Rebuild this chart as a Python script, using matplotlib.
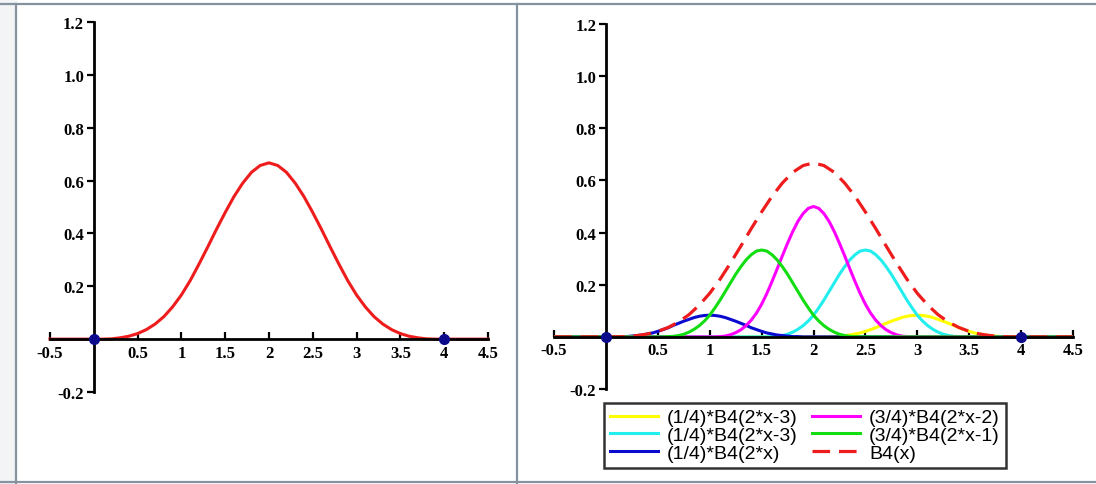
import numpy as np
import matplotlib
matplotlib.use("Agg")
import matplotlib.pyplot as plt
from matplotlib.lines import Line2D
from matplotlib.patches import Rectangle

# B4(x): cubic B-spline values, x from -0.5 to 4.5 step 0.1
x_b4 = np.linspace(-0.5, 4.5, 51)
b4 = [0, 0, 0, 0, 0,
      0, 0, .001, .005, .011, .021, .036, .057, .085, .122, .167,
      .221, .283, .348, .415, .479, .539, .590, .631, .657, .667,
      .657, .631, .590, .539, .479, .415, .348, .283, .221, .167,
      .122, .085, .057, .036, .021, .011, .005, .001, 0, 0,
      0, 0, 0, 0, 0]

# right panel pieces, each over its own support (step 0.05) plus the ends of the axis
blue_x = [-0.5] + list(np.linspace(0.0, 2.0, 41)) + [4.5]
blue_y = [0, 0, 0, 0, .001, .001, .003, .005, .007, .011, .015, .021, .028, .035, .044, .052,
          .060, .067, .074, .079, .082, .083, .082, .079, .074, .067, .060, .052, .044,
          .035, .028, .021, .015, .011, .007, .005, .003, .001, .001, 0, 0, 0, 0]
green_x = [-0.5] + list(np.linspace(0.5, 2.5, 41)) + [4.5]
green_y = [0, 0, 0, .001, .002, .005, .010, .018, .029, .043, .061, .083, .111, .141, .174, .207,
           .240, .269, .295, .315, .329, .333, .329, .315, .295, .269, .240, .207, .174,
           .141, .111, .083, .061, .043, .029, .018, .010, .005, .002, .001, 0, 0, 0]
magenta_x = [-0.5] + list(np.linspace(1.0, 3.0, 41)) + [4.5]
magenta_y = [0, 0, 0, .001, .003, .008, .016, .027, .043, .064, .091, .125, .166, .212, .261, .311,
             .359, .404, .443, .473, .493, .500, .493, .473, .443, .404, .359, .311, .261,
             .212, .166, .125, .091, .064, .043, .027, .016, .008, .003, .001, 0, 0, 0]
cyan_x = [-0.5] + list(np.linspace(1.5, 3.5, 41)) + [4.5]
cyan_y = [0, 0, 0, .001, .002, .005, .010, .018, .029, .043, .061, .083, .111, .141, .174, .207,
          .240, .269, .295, .315, .329, .333, .329, .315, .295, .269, .240, .207, .174,
          .141, .111, .083, .061, .043, .029, .018, .010, .005, .002, .001, 0, 0, 0]
yellow_x = [-0.5] + list(np.linspace(2.0, 4.0, 41)) + [4.5]
yellow_y = [0, 0, 0, 0, .001, .001, .003, .005, .007, .011, .015, .021, .028, .035, .044, .052,
            .060, .067, .074, .079, .082, .083, .082, .079, .074, .067, .060, .052, .044,
            .035, .028, .021, .015, .011, .007, .005, .003, .001, .001, 0, 0, 0, 0]

legend_labels = ["(1/4)*B4(2*x-3)", "(1/4)*B4(2*x-3)", "(1/4)*B4(2*x)",
                 "(3/4)*B4(2*x-2)", "(3/4)*B4(2*x-1)", "B4(x)"]

x_ticks = [-0.5, 0.5, 1, 1.5, 2, 2.5, 3, 3.5, 4, 4.5]
x_ticklabels = ["-0.5", "0.5", "1", "1.5", "2", "2.5", "3", "3.5", "4", "4.5"]
y_ticks = [-0.2, 0.2, 0.4, 0.6, 0.8, 1.0, 1.2]
y_ticklabels = ["-0.2", "0.2", "0.4", "0.6", "0.8", "1.0", "1.2"]
dots_x = [0, 4]
dots_y = [0, 0]

fig = plt.figure(figsize=(10.96, 4.85), dpi=100)

# window frame lines
fig.add_artist(Rectangle((0, 0), 0.0146, 1, transform=fig.transFigure, color="#f2f4f5", zorder=0))
frame = "#8592a0"
fig.add_artist(Line2D([0, 1], [0.9897, 0.9897], transform=fig.transFigure, color=frame, lw=1.6))
fig.add_artist(Line2D([0, 1], [0.004, 0.004], transform=fig.transFigure, color=frame, lw=1.6))
fig.add_artist(Line2D([0.0146, 0.0146], [0, 0.9897], transform=fig.transFigure, color=frame, lw=1.6))
fig.add_artist(Line2D([0.4717, 0.4717], [0, 0.9897], transform=fig.transFigure, color=frame, lw=1.6))

ax1 = fig.add_axes([0.0456, 0.1897, 0.3996, 0.763])
ax2 = fig.add_axes([0.5055, 0.1959, 0.4735, 0.7526])

tick_font = {"family": "Liberation Serif", "weight": "bold", "size": 12}

def style_axes(ax):
    ax.set_xlim(-0.5, 4.5)
    ax.set_ylim(-0.2, 1.2)
    ax.spines["left"].set_position(("data", 0))
    ax.spines["bottom"].set_position(("data", 0))
    ax.spines["top"].set_visible(False)
    ax.spines["right"].set_visible(False)
    for s in ("left", "bottom"):
        ax.spines[s].set_linewidth(2.0)
    ax.set_xticks(x_ticks)
    ax.set_xticklabels(x_ticklabels, fontdict=tick_font)
    ax.set_yticks(y_ticks)
    ax.set_yticklabels(y_ticklabels, fontdict=tick_font)
    ax.tick_params(axis="x", direction="in", length=5, width=1.6, pad=4)
    ax.tick_params(axis="y", direction="out", length=5, width=1.6, pad=2)
    ax.patch.set_alpha(0)

style_axes(ax1)
ax1.plot(x_b4, b4, color="#ee1c1c", lw=2.2, clip_on=False)
ax1.plot(dots_x, dots_y, "o", color="#0b0b8c", ms=7, zorder=5, clip_on=False)

style_axes(ax2)
lw = 2.2
ax2.plot(yellow_x, yellow_y, color="#ffff00", lw=lw, label=legend_labels[0])
ax2.plot(cyan_x, cyan_y, color="#22eeee", lw=lw, label=legend_labels[1])
ax2.plot(blue_x, blue_y, color="#0b0bd0", lw=lw, label=legend_labels[2])
ax2.plot(magenta_x, magenta_y, color="#ff00ff", lw=lw, label=legend_labels[3])
ax2.plot(green_x, green_y, color="#11dd11", lw=lw, label=legend_labels[4])
ax2.plot(x_b4, b4, color="#ee1c1c", lw=2.3, dashes=(5.5, 2.8), label=legend_labels[5])
ax2.plot(dots_x, dots_y, "o", color="#0b0b8c", ms=7, zorder=5, clip_on=False)

leg = fig.legend(*ax2.get_legend_handles_labels(), ncol=2, loc="upper left",
                 bbox_to_anchor=(604 / 1096, 1 - 404 / 485),
                 prop={"family": "Liberation Sans", "size": 14},
                 frameon=True, fancybox=False, edgecolor="black",
                 handlelength=2.5, handletextpad=0.45, columnspacing=0.7,
                 labelspacing=0.0, borderpad=0.3, borderaxespad=0)
leg.get_frame().set_linewidth(1.8)

fig.savefig("out.png", dpi=100)
